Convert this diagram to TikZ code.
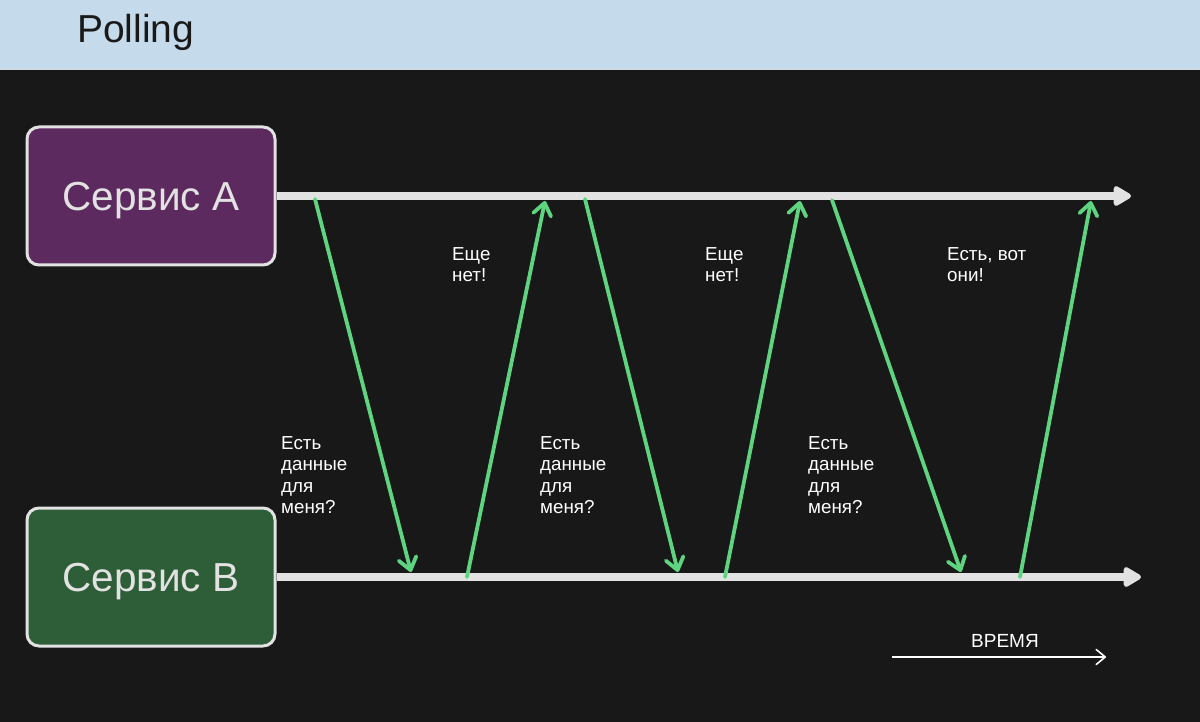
\documentclass[tikz,border=0pt]{standalone}
\usepackage{fontspec}
\setmainfont{Liberation Sans}
\usetikzlibrary{arrows.meta,positioning}

\definecolor{bgdark}{RGB}{24,24,24}
\definecolor{headblue}{RGB}{197,218,234}
\definecolor{srvpurple}{RGB}{92,42,94}
\definecolor{srvgreen}{RGB}{45,94,55}
\definecolor{linegray}{RGB}{226,226,226}
\definecolor{msggreen}{RGB}{94,212,128}

\begin{document}
\begin{tikzpicture}[x=1pt,y=-1pt,node distance=240pt,
  service/.style={rectangle,rounded corners=12pt,draw=linegray,line width=3pt,
    minimum width=248pt,minimum height=138pt,text depth=0pt,text=linegray,font=\fontsize{40.5}{48}\selectfont},
  timeline/.style={draw=linegray,line width=8pt,-{Triangle[length=20pt,width=22pt,round]}},
  msg/.style={draw=msggreen,line width=3.8pt,line cap=round,-{Straight Barb[length=12pt,width=18pt,round]}},
  note/.style={anchor=north west,inner sep=0pt,align=left,text=white,font=\fontsize{18.8}{21.5}\selectfont}]
    \useasboundingbox (0,0) rectangle (1200,722);
    \fill[bgdark] (0,0) rectangle (1200,722);
    % header
    \fill[headblue] (0,0) rectangle (1200,69);
    \draw[white!85!black,line width=1.5pt] (0,69.5) -- (1200,69.5);
    \node[anchor=base west,inner sep=0pt,text=black!90,font=\fontsize{39}{46}\selectfont](title) at (77,43){Polling};

    % services
    \node[service,fill=srvpurple](srvA) at (151,196){Сервис А};
    \node[service,fill=srvgreen,below=of srvA](srvB){Сервис В};

    % time lines
    \coordinate (endA) at (1131,196);
    \coordinate (endB) at (1141,577);
    \draw[timeline] (srvA.east) -- (endA);
    \draw[timeline] (srvB.east) -- (endB);

    % points on the lines
    \coordinate (a1) at (315,199);  \coordinate (b1) at (411,572);
    \coordinate (b2) at (467,577);  \coordinate (a2) at (545,201);
    \coordinate (a3) at (585,199);  \coordinate (b3) at (678,572);
    \coordinate (b4) at (725,577);  \coordinate (a4) at (800,201);
    \coordinate (a5) at (832,200);  \coordinate (b5) at (961,572);
    \coordinate (b6) at (1020,577); \coordinate (a6) at (1091,201);

    % requests and answers
    \draw[msg] (a1) -- (b1);
    \draw[msg] (b2) -- (a2);
    \draw[msg] (a3) -- (b3);
    \draw[msg] (b4) -- (a4);
    \draw[msg] (a5) -- (b5);
    \draw[msg] (b6) -- (a6);

    \node[note](ask1) at (281,436){Есть\\данные\\для\\меня?};
    \node[note](ask2) at (540,436){Есть\\данные\\для\\меня?};
    \node[note](ask3) at (808,436){Есть\\данные\\для\\меня?};
    \node[note](no1) at (452,247){Еще\\нет!};
    \node[note](no2) at (705,247){Еще\\нет!};
    \node[note](yes) at (947,247){Есть, вот\\они!};

    % time axis
    \coordinate (t0) at (892,657);
    \coordinate (t1) at (1106,657);
    \draw[white,line width=1.6pt,-{Straight Barb[length=9pt,width=15pt,round]}] (t0) -- (t1);
    \node[text=white,font=\fontsize{19}{22}\selectfont,above=6pt of t0,xshift=113pt](time){ВРЕМЯ};
\end{tikzpicture}
\end{document}
